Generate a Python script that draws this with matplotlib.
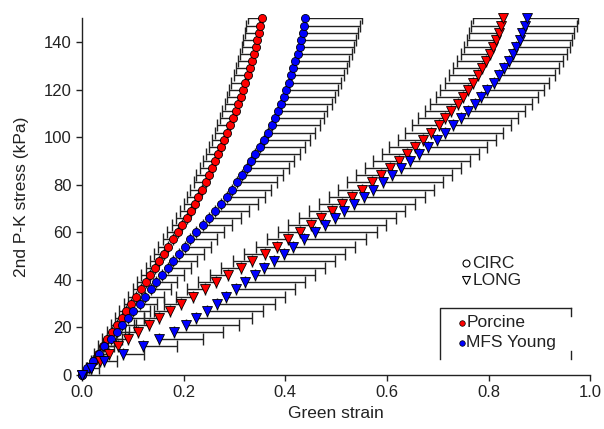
import numpy as np
import matplotlib
matplotlib.use("Agg")
import matplotlib.pyplot as plt

# --- Mean stress-strain data, sampled every 3 kPa ---
stress = [0, 3, 6, 9, 12, 15, 18, 21, 24, 27,
          30, 33, 36, 39, 42, 45, 48, 51, 54, 57,
          60, 63, 66, 69, 72, 75, 78, 81, 84, 87,
          90, 93, 96, 99, 102, 105, 108, 111, 114, 117,
          120, 123, 126, 129, 132, 135, 138, 141, 144, 147,
          150]

# Green strain, porcine circumferential
porcine_circ = [0, 0.013, 0.023, 0.032, 0.041, 0.049, 0.059, 0.068, 0.078, 0.087,
                0.097, 0.106, 0.116, 0.125, 0.134, 0.144, 0.152, 0.161, 0.170, 0.179,
                0.189, 0.197, 0.206, 0.214, 0.222, 0.229, 0.236, 0.243, 0.249, 0.256,
                0.262, 0.268, 0.274, 0.280, 0.286, 0.291, 0.297, 0.302, 0.307, 0.312,
                0.317, 0.321, 0.326, 0.330, 0.334, 0.338, 0.342, 0.345, 0.348, 0.351,
                0.354]
# Green strain, MFS young circumferential
mfs_circ = [0, 0.010, 0.021, 0.033, 0.044, 0.056, 0.068, 0.078, 0.090, 0.101,
            0.113, 0.124, 0.135, 0.146, 0.158, 0.169, 0.179, 0.191, 0.202, 0.213,
            0.225, 0.237, 0.250, 0.262, 0.274, 0.285, 0.295, 0.305, 0.315, 0.324,
            0.333, 0.341, 0.350, 0.358, 0.365, 0.373, 0.379, 0.385, 0.391, 0.397,
            0.402, 0.407, 0.412, 0.416, 0.420, 0.424, 0.428, 0.431, 0.434, 0.436,
            0.438]
# Green strain, porcine longitudinal
porcine_long = [0, 0.018, 0.036, 0.053, 0.071, 0.090, 0.110, 0.131, 0.151, 0.173,
                0.195, 0.218, 0.241, 0.264, 0.288, 0.312, 0.335, 0.359, 0.383, 0.406,
                0.428, 0.450, 0.471, 0.492, 0.512, 0.532, 0.551, 0.570, 0.588, 0.606,
                0.623, 0.640, 0.656, 0.672, 0.687, 0.702, 0.715, 0.727, 0.739, 0.750,
                0.760, 0.770, 0.779, 0.787, 0.795, 0.802, 0.809, 0.815, 0.820, 0.825,
                0.829]
# Green strain, MFS young longitudinal
mfs_long = [0, 0.018, 0.043, 0.080, 0.120, 0.152, 0.181, 0.204, 0.225, 0.245,
            0.265, 0.284, 0.302, 0.321, 0.340, 0.358, 0.377, 0.397, 0.416, 0.437,
            0.459, 0.478, 0.497, 0.516, 0.535, 0.554, 0.573, 0.592, 0.610, 0.628,
            0.646, 0.664, 0.681, 0.698, 0.714, 0.730, 0.745, 0.759, 0.773, 0.786,
            0.798, 0.810, 0.821, 0.831, 0.840, 0.848, 0.855, 0.861, 0.866, 0.871,
            0.875]

# --- One-sided errors (porcine drawn to the left, MFS to the right) ---
porcine_circ_err = [0, 0.004, 0.006, 0.008, 0.009, 0.010, 0.011, 0.012, 0.013, 0.014,
                    0.015, 0.016, 0.016, 0.017, 0.018, 0.018, 0.019, 0.019, 0.020, 0.020,
                    0.021, 0.021, 0.022, 0.022, 0.022, 0.023, 0.023, 0.023, 0.024, 0.024,
                    0.024, 0.025, 0.025, 0.025, 0.025, 0.026, 0.026, 0.026, 0.026, 0.027,
                    0.027, 0.027, 0.027, 0.027, 0.027, 0.028, 0.028, 0.028, 0.028, 0.028,
                    0.028]
mfs_circ_err = [0, 0.008, 0.012, 0.016, 0.019, 0.022, 0.025, 0.028, 0.031, 0.033,
                0.035, 0.037, 0.039, 0.041, 0.043, 0.045, 0.047, 0.049, 0.051, 0.053,
                0.055, 0.058, 0.062, 0.067, 0.072, 0.075, 0.077, 0.079, 0.081, 0.083,
                0.085, 0.087, 0.089, 0.091, 0.093, 0.095, 0.097, 0.098, 0.100, 0.101,
                0.102, 0.103, 0.104, 0.105, 0.106, 0.107, 0.108, 0.109, 0.110, 0.111,
                0.112]
porcine_long_err = [0, 0.010, 0.014, 0.018, 0.021, 0.024, 0.026, 0.028, 0.030, 0.031,
                    0.033, 0.034, 0.035, 0.036, 0.037, 0.038, 0.039, 0.040, 0.041, 0.042,
                    0.043, 0.044, 0.045, 0.045, 0.046, 0.047, 0.047, 0.048, 0.049, 0.049,
                    0.050, 0.050, 0.051, 0.051, 0.052, 0.052, 0.053, 0.053, 0.054, 0.054,
                    0.055, 0.055, 0.056, 0.056, 0.057, 0.057, 0.058, 0.058, 0.058, 0.059,
                    0.059]
mfs_long_err = [0, 0.015, 0.025, 0.042, 0.066, 0.086, 0.097, 0.105, 0.110, 0.112,
                0.114, 0.115, 0.117, 0.118, 0.119, 0.120, 0.120, 0.121, 0.121, 0.121,
                0.121, 0.121, 0.121, 0.120, 0.120, 0.120, 0.119, 0.119, 0.118, 0.118,
                0.117, 0.117, 0.116, 0.116, 0.115, 0.115, 0.114, 0.113, 0.113, 0.112,
                0.111, 0.110, 0.109, 0.108, 0.107, 0.106, 0.105, 0.104, 0.103, 0.103,
                0.102]

plt.rcParams["font.family"] = ["Liberation Sans", "DejaVu Sans"]

fig = plt.figure(figsize=(6.04, 4.29), dpi=100)
ax = fig.add_axes([0.136, 0.126, 0.841, 0.831])

zero = np.zeros(len(stress))
series = [
    # (strain, error, left-sided?, color, marker)
    (porcine_circ, porcine_circ_err, True, "#ff0000", "o"),
    (mfs_circ, mfs_circ_err, False, "#0000ff", "o"),
    (porcine_long, porcine_long_err, True, "#ff0000", "v"),
    (mfs_long, mfs_long_err, False, "#0000ff", "v"),
]

# error bars first so all markers sit on top
for strain, err, left, color, marker in series:
    xerr = [err, zero] if left else [zero, err]
    ax.errorbar(strain, stress, xerr=xerr, fmt="none", ecolor="#222222",
                elinewidth=1.0, capsize=4, capthick=1.0, zorder=2)

for strain, err, left, color, marker in series:
    ms = 5.8 if marker == "o" else 6.8
    ax.plot(strain, stress, linestyle="none", marker=marker, markersize=ms,
            markerfacecolor=color, markeredgecolor="black", markeredgewidth=0.6,
            zorder=3, clip_on=False)

ax.set_xlim(0, 1.0)
ax.set_ylim(0, 150)
ax.set_xticks([0, 0.2, 0.4, 0.6, 0.8, 1.0])
ax.set_xticklabels(["0.0", "0.2", "0.4", "0.6", "0.8", "1.0"])
ax.set_yticks([0, 20, 40, 60, 80, 100, 120, 140])
ax.tick_params(direction="out", length=4, width=1, labelsize=12, colors="#222222")
for side in ["top", "right"]:
    ax.spines[side].set_visible(False)
for side in ["left", "bottom"]:
    ax.spines[side].set_linewidth(1.0)
    ax.spines[side].set_color("#222222")

ax.set_xlabel("Green strain", fontsize=12.5, color="#222222", labelpad=4)
ax.set_ylabel("2nd P-K stress (kPa)", fontsize=12.5, color="#222222", labelpad=11)

# --- Marker-shape key ---
tr = ax.transAxes
ax.plot([0.756], [0.314], marker="o", markersize=5, markerfacecolor="white",
        markeredgecolor="black", markeredgewidth=0.8, transform=tr, clip_on=False)
ax.plot([0.756], [0.265], marker="v", markersize=5.5, markerfacecolor="white",
        markeredgecolor="black", markeredgewidth=0.8, transform=tr, clip_on=False)
ax.text(0.768, 0.314, "CIRC", transform=tr, fontsize=12.5, va="center", color="#222222")
ax.text(0.768, 0.265, "LONG", transform=tr, fontsize=12.5, va="center", color="#222222")

# --- Group key, boxed on left / top / right ---
box_color = "#222222"
ax.plot([0.705, 0.705, 0.963], [0.044, 0.188, 0.188], color=box_color, lw=1.0,
        transform=tr, clip_on=False)
ax.plot([0.963, 0.963], [0.188, 0.165], color=box_color, lw=1.0, transform=tr, clip_on=False)
ax.plot([0.963, 0.963], [0.066, 0.044], color=box_color, lw=1.0, transform=tr, clip_on=False)
ax.plot([0.748], [0.146], marker="o", markersize=4, markerfacecolor="#ff0000",
        markeredgecolor="black", markeredgewidth=0.5, transform=tr, clip_on=False)
ax.plot([0.748], [0.090], marker="o", markersize=4, markerfacecolor="#0000ff",
        markeredgecolor="black", markeredgewidth=0.5, transform=tr, clip_on=False)
ax.text(0.756, 0.146, "Porcine", transform=tr, fontsize=12.5, va="center", color="#222222")
ax.text(0.756, 0.090, "MFS Young", transform=tr, fontsize=12.5, va="center", color="#222222")

fig.savefig("out.png", dpi=100)
